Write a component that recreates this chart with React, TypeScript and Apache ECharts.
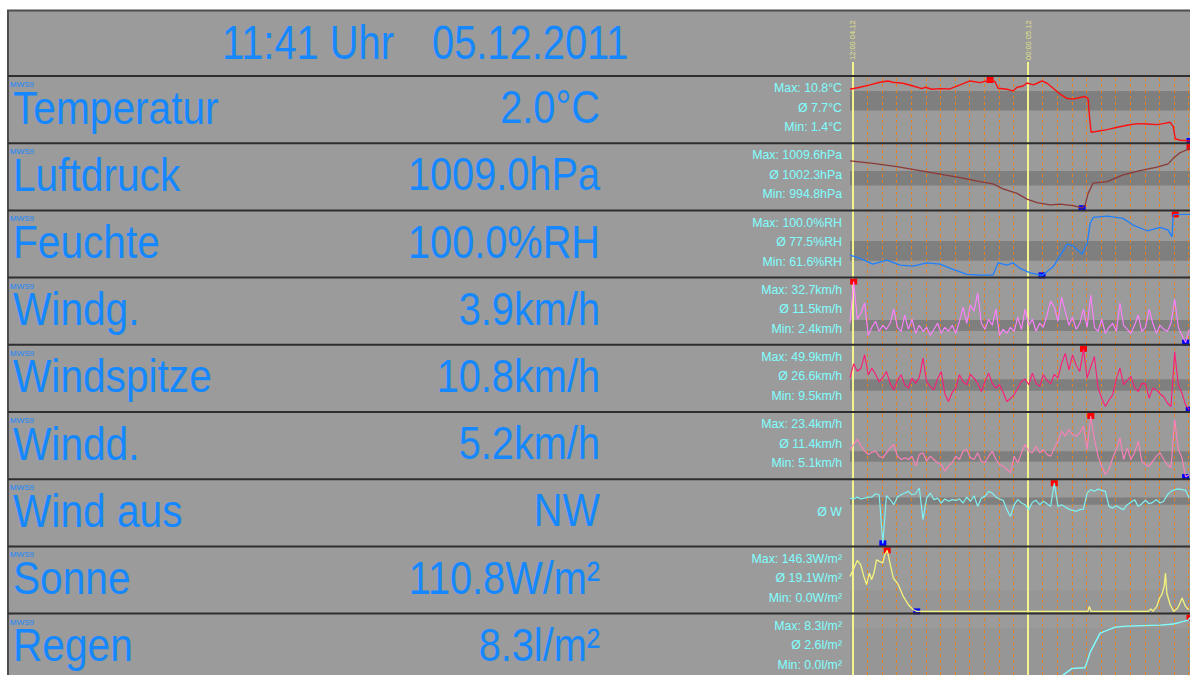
import React, { useEffect, useRef } from 'react';
import * as echarts from 'echarts';

const FONT = '"Liberation Sans", Arial, sans-serif';

// ---------- texts ----------
const headerTime = '11:41 Uhr';
const headerDate = '05.12.2011';
const stationTag = 'MWS9';
const rowLabels = ['Temperatur', 'Luftdruck', 'Feuchte', 'Windg.', 'Windspitze', 'Windd.', 'Wind aus', 'Sonne', 'Regen'];
const currentValues = ['2.0°C', '1009.0hPa', '100.0%RH', '3.9km/h', '10.8km/h', '5.2km/h', 'NW', '110.8W/m²', '8.3l/m²'];
const units = ['°C', 'hPa', '%RH', 'km/h', 'km/h', 'km/h', '', 'W/m²', 'l/m²'];
const maxValues = [10.8, 1009.6, 100.0, 32.7, 49.9, 23.4, null, 146.3, 8.3];
const avgValues = [7.7, 1002.3, 77.5, 11.5, 26.6, 11.4, null, 19.1, 2.6];
const minValues = [1.4, 994.8, 61.6, 2.4, 9.5, 5.1, null, 0.0, 0.0];
const windDirAvgText = 'Ø W';

// ---------- axes ----------
const X_MIN = -0.2; // hours relative to 12:00 04.12
const X_MAX = 23.1;
const axisMin = [1.4, 994.8, 61.6, 2.4, 9.5, 5.1, 0, 0, 0];
const axisMax = [10.8, 1009.6, 100, 32.7, 49.9, 23.4, 360, 146.3, 8.3];
const bands = [[6.1, 9.1], [1000.3, 1003.85], [70.8, 83.2], [8.1, 13.6], [22.1, 29.8], [9.65, 12.85], [233, 276], [0, 50], [0, 6.9]];
const markHours = [0, 12];
const markLabels = ['12:00 04.12', '00:00 05.12'];
const hourLines = [1, 2, 3, 4, 5, 6, 7, 8, 9, 10, 11, 13, 14, 15, 16, 17, 18, 19, 20, 21, 22, 23];

// ---------- series data ----------
const temperature = [
  [-0.2, 9.38], [0.48, 9.68], [1.17, 10.04], [1.85, 10.45], [2.4, 10.65], [2.74, 10.45], [3.43, 10.3], [4.12, 9.88],
  [4.73, 9.47], [4.94, 9.68], [5.42, 9.38], [5.97, 9.47], [6.65, 9.42], [7.34, 10.04], [8.02, 10.65], [8.71, 10.39],
  [9.4, 10.8], [9.74, 10.54], [9.95, 9.53], [10.56, 9.38], [10.97, 9.12], [11.25, 9.68], [11.66, 9.88], [11.93, 10.34],
  [12.35, 10.04], [12.62, 10.3], [12.96, 10.65], [13.31, 10.3], [13.72, 9.53], [14.2, 8.61], [14.68, 7.94], [15.09, 7.85],
  [15.57, 8.1], [15.91, 8.25], [16.12, 7.94], [16.19, 5.76], [16.32, 2.75], [16.74, 2.9], [17.42, 3.16], [18.11, 3.51],
  [18.79, 3.82], [19.48, 4.08], [20.16, 4.03], [20.85, 3.92], [21.26, 4.08], [21.74, 4.28], [21.95, 3.66], [22.09, 1.74],
  [22.43, 1.52], [23.1, 1.4],
];
const pressure = [
  [-0.2, 1006.3], [1.37, 1005.7], [3.02, 1004.9], [4.6, 1003.9], [5.97, 1003.05], [7.34, 1002.2], [8.71, 1001.25],
  [9.6, 1000.7], [10.29, 999.5], [11.25, 998.4], [11.93, 997.0], [12.62, 996.15], [13.51, 995.6], [14.2, 995.8],
  [15.09, 995.4], [15.71, 994.8], [15.91, 995.6], [16.12, 998.4], [16.46, 1000.9], [17.42, 1001.25], [18.52, 1002.9],
  [19.68, 1003.9], [20.85, 1004.75], [21.6, 1005.55], [21.95, 1006.9], [22.43, 1008.3], [22.98, 1009.1], [23.1, 1009.6],
];
const humidity = [
  [-0.2, 74.4], [0.48, 72.3], [1.37, 68.7], [2.33, 71.2], [3.22, 68.1], [4.12, 67.5], [5.08, 69.5], [5.97, 68.7],
  [6.86, 65.4], [7.82, 62.2], [8.71, 61.8], [9.6, 61.8], [9.95, 69.5], [10.56, 68.1], [10.97, 69.5], [11.45, 66.0],
  [12.14, 63.2], [12.96, 61.6], [13.72, 67.0], [14.68, 81.3], [15.09, 80.0], [15.71, 75.0], [16.05, 81.7], [16.26, 94.3],
  [16.46, 98.1], [17.42, 98.9], [18.52, 97.5], [19.2, 93.3], [20.16, 89.7], [21.06, 91.8], [21.6, 90.1], [21.87, 85.9],
  [21.95, 99.6], [22.09, 100], [23.1, 100],
];
const WIND_START = -0.2;
const WIND_STEP = 0.25;
const windAvg = [
  12, 32.7, 14, 17, 22, 6, 10, 13, 8, 11, 9, 12, 19, 10, 8, 16, 9, 14, 7, 11,
  8, 10, 6, 9, 12, 7, 10, 8, 11, 7, 13, 20, 12, 21, 18, 27, 12, 9, 14, 11,
  19, 6, 9, 7, 10, 8, 15, 9, 19, 11, 14, 8, 12, 10, 16, 23, 20, 13, 25, 18,
  11, 15, 9, 12, 19, 10, 26, 10, 8, 14, 7, 10, 12, 8, 22, 11, 9, 7, 11, 16,
  8, 10, 19, 12, 7, 11, 9, 8, 12, 24, 10, 6, 2.4, 9,
];
const windGust = [
  30.5, 40, 35, 37, 45.9, 32.7, 37, 33, 28, 31, 34.9, 27, 22.7, 29, 32.7, 26, 23.9, 30.5, 27, 31,
  43.7, 28.2, 25, 22.7, 30, 34.9, 20, 15, 21, 23.9, 32.7, 28, 26.1, 33, 30.5, 27, 21.6, 28, 33.8, 27,
  23.9, 26.1, 21, 15, 17, 19.4, 24, 28.2, 30, 26.1, 33.8, 27, 25, 32.7, 29, 26.7, 33, 30.5, 40.4, 46.8,
  36, 45.9, 39, 34.9, 49.9, 30.5, 38, 44.8, 23.9, 17.2, 11.7, 16, 19.4, 30, 37.1, 26.1, 29, 31.6, 24, 21.6,
  27, 26.7, 17.2, 24, 22.7, 20, 18.3, 14, 11.7, 47.9, 26.1, 20.5, 12.8, 9.5,
];
const windMean = [
  13.35, 14.85, 16.4, 14.4, 12.85, 11.85, 12.5, 12.85, 11.35, 10.85, 12.35, 13.85, 14.85, 11.35, 10.35, 10.85, 10.35, 11.35, 8.35, 11.85,
  12.35, 9.85, 11.35, 10.35, 9.35, 8.85, 6.85, 8.35, 9.35, 11.35, 10.35, 12.85, 13.35, 10.85, 10.35, 12.35, 9.85, 9.35, 11.35, 12.85,
  10.35, 8.85, 8.35, 7.35, 6.35, 11.35, 9.35, 12.35, 14.85, 12.85, 12.35, 14.35, 12.35, 13.35, 11.85, 11.35, 13.85, 15.85, 18.85, 17.35,
  19.35, 17.85, 17.35, 18.35, 20.35, 13.35, 23.4, 16.35, 11.35, 8.35, 5.85, 7.35, 10.85, 13.35, 16.85, 10.35, 13.85, 10.35, 12.35, 15.85,
  9.85, 8.85, 8.35, 9.85, 11.35, 12.35, 10.35, 8.85, 7.85, 22.35, 13.35, 10.85, 5.1, 5.85,
];
const windDir = [
  272, 267, 278, 267, 272, 278, 278, 298, 292, 5, 286, 263, 233, 278, 292, 302, 312, 292, 298, 331,
  145, 272, 302, 263, 272, 243, 267, 253, 263, 259, 267, 243, 278, 253, 286, 223, 272, 282, 312, 302,
  278, 267, 259, 204, 164, 233, 263, 243, 233, 204, 247, 259, 233, 253, 239, 223, 360, 223, 233, 219,
  207, 200, 194, 204, 207, 302, 322, 312, 325, 318, 312, 223, 213, 227, 213, 204, 233, 247, 263, 223,
  239, 259, 239, 247, 263, 243, 253, 292, 312, 322, 326, 322, 318, 272,
];
const sun = [
  [-0.2, 84], [0.02, 100], [0.3, 122], [0.53, 112], [0.75, 84], [0.94, 64], [1.12, 92], [1.28, 76], [1.44, 92],
  [1.62, 124], [1.81, 120], [2.04, 116], [2.19, 136], [2.35, 146.3], [2.54, 116], [2.77, 80], [3.11, 64], [3.45, 36],
  [3.8, 16], [4.14, 4], [4.37, 0], [16.1, 0], [16.2, 12], [16.32, 0], [20.25, 0], [20.42, 6], [20.56, 0], [20.83, 12],
  [21.01, 32], [21.17, 40], [21.33, 60], [21.42, 92], [21.51, 44], [21.74, 16], [21.98, 0], [22.26, 8], [22.56, 32],
  [22.79, 12], [23.02, 4],
];
const rain = [
  [-0.2, 0], [14.0, 0], [14.4, 0.48], [15.02, 1.39], [15.91, 1.47], [16.26, 3.6], [16.94, 6.19], [17.97, 7.0],
  [18.79, 7.14], [21.06, 7.28], [21.95, 7.42], [22.98, 7.96], [23.1, 8.3],
];

const toPairs = (vals: number[]) => vals.map((v, i) => [WIND_START + i * WIND_STEP, v]);
const seriesData = [temperature, pressure, humidity, toPairs(windAvg), toPairs(windGust), toPairs(windMean), toPairs(windDir), sun, rain];

// ---------- styles ----------
const BG = '#9b9b9b';
const BLUE_TEXT = '#1688ff';
const CYAN_TEXT = '#80ffff';
const lineColors = ['#ff1010', '#8a3a3a', '#1f80ff', '#ff80ff', '#ff1a78', '#ff80b8', '#80f0f0', '#f4f47c', '#80ffff'];
const lineWidths = [1.4, 1.3, 1.3, 1.1, 1.1, 1.1, 1.2, 1.3, 1.4];
const bandColors = ['#7f7f7f', '#7f7f7f', '#7f7f7f', '#7f7f7f', '#7f7f7f', '#7f7f7f', '#7f7f7f', '#969696', '#969696'];

const rowTop = (i: number) => 76 + 67.2 * i; // page coords
const PLOT_LEFT = 850;

function fmt(v: number | null, unit: string) {
  return v === null ? '' : v.toFixed(1) + unit;
}

function buildOption() {
  const grid: any[] = [];
  const xAxis: any[] = [];
  const yAxis: any[] = [];
  const series: any[] = [];
  const graphic: any[] = [];

  graphic.push({
    type: 'rect', z: -100, silent: true,
    shape: { x: 8, y: 10.5, width: 1200, height: 700 },
    style: { fill: BG, stroke: '#4d4d4d', lineWidth: 2 },
  });

  const bigText = (text: string, x: number, y: number, align: string, size: number, sx: number) => ({
    type: 'text', z: 50, silent: true, x, y, scaleX: sx,
    style: {
      text, fill: BLUE_TEXT, fontSize: size, fontFamily: FONT,
      textAlign: align, align, textVerticalAlign: 'middle', verticalAlign: 'middle',
    },
  });

  graphic.push(bigText(headerTime, 222, 42.5, 'left', 48, 0.83));
  graphic.push(bigText(headerDate, 432, 42.5, 'left', 48, 0.83));

  rowLabels.forEach((label, i) => {
    const top = rowTop(i);
    graphic.push(bigText(label, 13, top + 31, 'left', 47, 0.865));
    graphic.push(bigText(currentValues[i], 600, top + 31, 'right', 47, 0.845));
    graphic.push({
      type: 'text', z: 50, silent: true, x: 10, y: top + 8.5,
      style: { text: stationTag, fill: BLUE_TEXT, fontSize: 8, fontFamily: FONT, textAlign: 'left', align: 'left', textVerticalAlign: 'middle', verticalAlign: 'middle' },
    });
    const stat = (text: string, dy: number) => ({
      type: 'text', z: 50, silent: true, x: 842, y: top + dy, scaleX: 0.95,
      style: { text, fill: CYAN_TEXT, fontSize: 13, fontFamily: FONT, textAlign: 'right', align: 'right', textVerticalAlign: 'middle', verticalAlign: 'middle' },
    });
    if (maxValues[i] === null) {
      graphic.push(stat(windDirAvgText, 32.5));
    } else {
      graphic.push(stat('Max: ' + fmt(maxValues[i], units[i]), 12));
      graphic.push(stat('Ø ' + fmt(avgValues[i], units[i]), 31.5));
      graphic.push(stat('Min: ' + fmt(minValues[i], units[i]), 51));
    }

    grid.push({ left: PLOT_LEFT, right: 0, top: top + 4, height: 61, outerBoundsMode: 'none', containLabel: false });
    xAxis.push({ type: 'value', gridIndex: i, min: X_MIN, max: X_MAX, show: false });
    yAxis.push({
      type: 'value', gridIndex: i, min: axisMin[i], max: axisMax[i],
      axisLine: { show: true, lineStyle: { color: '#2c7fd6', width: 1 } },
      axisTick: { show: false }, axisLabel: { show: false }, splitLine: { show: false },
    });
    series.push({
      type: 'line', name: label + ' band', xAxisIndex: i, yAxisIndex: i, data: [], z: 1, silent: true,
      markArea: { silent: true, itemStyle: { color: bandColors[i] }, data: [[{ yAxis: bands[i][0] }, { yAxis: bands[i][1] }]] },
    });
    series.push({
      type: 'line', name: label, xAxisIndex: i, yAxisIndex: i, data: seriesData[i],
      showSymbol: false, symbol: 'none', z: 5, silent: true,
      lineStyle: { color: lineColors[i], width: lineWidths[i] },
      markPoint: {
        symbol: 'rect', symbolSize: [7, 6], silent: true, label: { show: false },
        data: [
          { type: 'max', itemStyle: { color: '#ff0000' } },
          { type: 'min', itemStyle: { color: '#0000ff' } },
        ],
      },
    });
  });

  // orange hourly dashed lines
  grid.push({ left: PLOT_LEFT, right: 0, top: 76, bottom: 0, outerBoundsMode: 'none', containLabel: false });
  xAxis.push({ type: 'value', gridIndex: 9, min: X_MIN, max: X_MAX, show: false });
  yAxis.push({ type: 'value', gridIndex: 9, min: 0, max: 1, show: false });
  series.push({
    type: 'line', name: 'hours', xAxisIndex: 9, yAxisIndex: 9, data: [], z: 2, silent: true,
    markLine: {
      silent: true, symbol: ['none', 'none'], label: { show: false },
      lineStyle: { color: '#e8801e', type: [3, 3], width: 1 },
      data: hourLines.map((h) => ({ xAxis: h })),
    },
  });

  // yellow day/time marker lines
  grid.push({ left: PLOT_LEFT, right: 0, top: 62, bottom: 0, outerBoundsMode: 'none', containLabel: false });
  xAxis.push({
    type: 'value', gridIndex: 10, min: X_MIN, max: X_MAX, position: 'top',
    axisLine: { show: false }, axisTick: { show: false }, splitLine: { show: false },
    axisLabel: {
      show: true, customValues: markHours, rotate: 90, margin: 2, color: '#e2e28a', fontSize: 7.5, fontFamily: FONT,
      formatter: (v: number) => { const k = markHours.indexOf(v); return k >= 0 ? markLabels[k] : ''; },
    },
  });
  yAxis.push({ type: 'value', gridIndex: 10, min: 0, max: 1, show: false });
  series.push({
    type: 'line', name: 'marks', xAxisIndex: 10, yAxisIndex: 10, data: [], z: 3, silent: true,
    markLine: {
      silent: true, symbol: ['none', 'none'], label: { show: false },
      lineStyle: { color: '#f4f48c', type: 'solid', width: 2 },
      data: markHours.map((h) => ({ xAxis: h })),
    },
  });

  // row separators
  for (let i = 0; i < rowLabels.length; i++) {
    const y = rowTop(i);
    graphic.push({
      type: 'line', z: 100, silent: true,
      shape: { x1: 8, y1: y, x2: 1200, y2: y },
      style: { stroke: '#2e2e2e', lineWidth: 2 },
    });
  }

  return { animation: false, backgroundColor: 'transparent', grid, xAxis, yAxis, series, graphic };
}

export default function App() {
  const ref = useRef<HTMLDivElement>(null);
  useEffect(() => {
    if (!ref.current) return;
    const chart = echarts.init(ref.current, null, { renderer: 'svg' });
    chart.setOption(buildOption() as any);
    return () => chart.dispose();
  }, []);
  return <div ref={ref} style={{ position: 'absolute', left: 0, top: 0, width: 1190, height: 675 }} />;
}
